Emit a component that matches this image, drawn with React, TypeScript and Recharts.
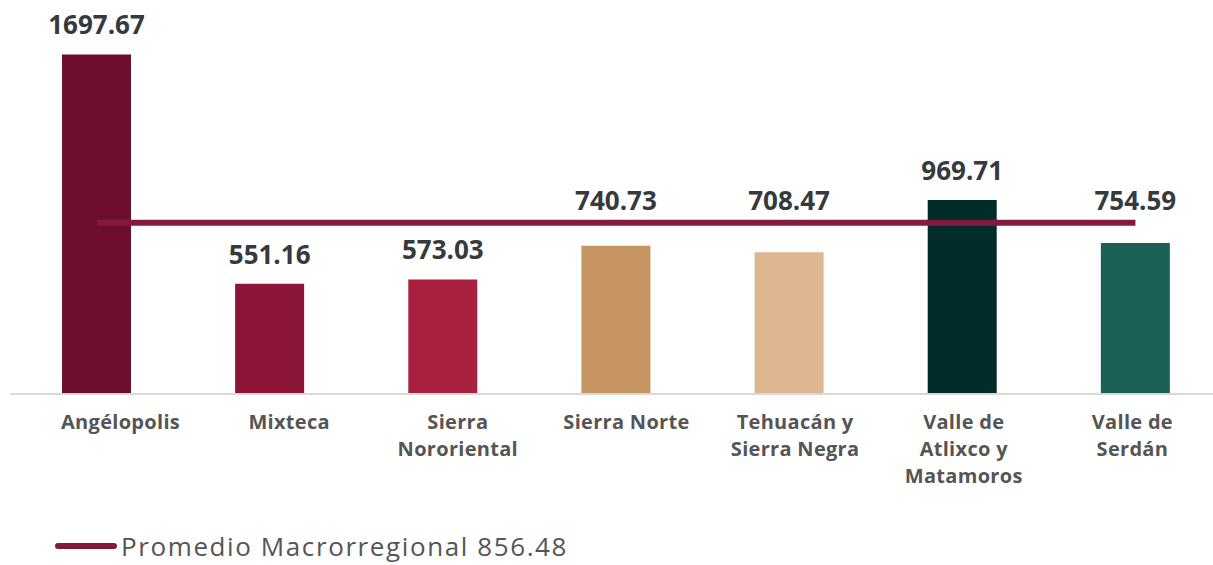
import React from 'react';
import { ComposedChart, Bar, Line, XAxis, YAxis, Cell, LabelList } from 'recharts';

// regions (line breaks follow the reference tick labels)
const categories = [
    'Angélopolis',
    'Mixteca',
    'Sierra\nNororiental',
    'Sierra Norte',
    'Tehuacán y\nSierra Negra',
    'Valle de\nAtlixco y\nMatamoros',
    'Valle de\nSerdán',
];
const values = [1697.67, 551.16, 573.03, 740.73, 708.47, 969.71, 754.59];
const average = 856.48;
const averageLabel = 'Promedio Macrorregional 856.48';

const COLORS = ['#6d0e2e', '#8c1538', '#a8203d', '#c69461', '#deb791', '#022c29', '#1b6156'];
const LINE_COLOR = '#841a3b';
const FONT = '"Open Sans", sans-serif';

const data = categories.map((name, i) => ({ name, value: values[i], avg: average }));

const PLOT_TOP = 54;
const PLOT_BOTTOM = 394;
const Y_MAX = 1700;
const lineY = PLOT_BOTTOM - (average / Y_MAX) * (PLOT_BOTTOM - PLOT_TOP);

// the source's tick labels sit on a slightly narrower, right-shifted spread than the bars
function CategoryTick(props: any) {
    const { x, y, payload } = props;
    const tx = 615 + (x - 615) * 0.974 + 10.5;
    const lines = String(payload.value).split('\n');
    return (
        <text x={tx} y={y} textAnchor="middle" fill="#555555" fontFamily={FONT} fontWeight={700} fontSize={20} letterSpacing={0.3}>
            {lines.map((l, i) => (
                <tspan key={i} x={tx} y={y + 27 + i * 27}>{l}</tspan>
            ))}
        </text>
    );
}

function ValueLabel(props: any) {
    const { x, y, width, value } = props;
    let base = y - 20;
    // keep the label clear of the average line
    if (base > lineY - 6 && base - 21 < lineY + 6) base = lineY - 13;
    return (
        <text x={x + width / 2} y={base} textAnchor="middle" fill="#343a3e" fontFamily={FONT} fontWeight={700} fontSize={26}>
            {Number(value).toFixed(2)}
        </text>
    );
}

export default function App() {
    return (
        <div style={{ position: 'relative', width: 1213, height: 565, overflow: 'hidden', background: '#fff' }}>
            <style>{`body{margin:0}`}</style>
            <ComposedChart
                width={1222}
                height={565}
                data={data}
                margin={{ top: PLOT_TOP, right: 0, bottom: 0, left: 10 }}
            >
                <XAxis
                    dataKey="name"
                    axisLine={{ stroke: '#d9d9d9', strokeWidth: 2 }}
                    tickLine={false}
                    interval={0}
                    height={565 - PLOT_BOTTOM}
                    tick={<CategoryTick />}
                />
                <YAxis hide domain={[0, Y_MAX]} />
                <Bar dataKey="value" barSize={69} isAnimationActive={false}>
                    {data.map((_, i) => (
                        <Cell key={`cell-${i}`} fill={COLORS[i % COLORS.length]} />
                    ))}
                    <LabelList dataKey="value" content={<ValueLabel />} />
                </Bar>
                <Line
                    dataKey="avg"
                    type="linear"
                    stroke={LINE_COLOR}
                    strokeWidth={6}
                    dot={false}
                    activeDot={false}
                    isAnimationActive={false}
                />
            </ComposedChart>
            <div style={{ position: 'absolute', left: 55, top: 528, display: 'flex', alignItems: 'center', height: 36 }}>
                <div style={{ width: 62, height: 6, borderRadius: 3, background: LINE_COLOR }} />
                <span style={{ marginLeft: 4, fontFamily: FONT, fontSize: 26, letterSpacing: 1.6, color: '#555555', lineHeight: '36px', whiteSpace: 'nowrap' }}>
                    {averageLabel}
                </span>
            </div>
        </div>
    );
}
